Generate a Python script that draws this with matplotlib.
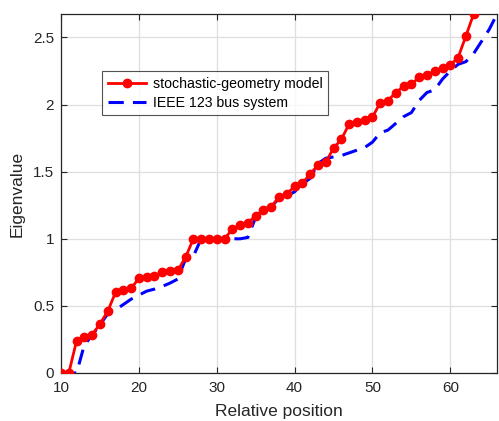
import numpy as np
import matplotlib
matplotlib.use("Agg")
from matplotlib import pyplot as plt

plt.rcParams["font.family"] = ["Liberation Sans", "DejaVu Sans"]

# stochastic-geometry model, one value per position 10..63
pos_model = np.arange(10, 64)
eig_model = [0, 0, 0.24, 0.265, 0.285, 0.365, 0.46, 0.60, 0.615, 0.63,
             0.705, 0.715, 0.722, 0.749, 0.763, 0.764, 0.862, 1.0, 1.0, 1.0,
             1.0, 1.0, 1.07, 1.105, 1.12, 1.17, 1.215, 1.235, 1.315, 1.335,
             1.39, 1.415, 1.482, 1.55, 1.57, 1.675, 1.74, 1.855, 1.87, 1.885,
             1.905, 2.015, 2.03, 2.09, 2.135, 2.15, 2.205, 2.22, 2.25, 2.27,
             2.295, 2.35, 2.51, 2.675]

# IEEE 123 bus system, positions 10..66
pos_ieee = np.arange(10, 67)
eig_ieee = [0, 0, 0.0, 0.21, 0.28, 0.36, 0.44, 0.47, 0.51, 0.55,
            0.58, 0.61, 0.625, 0.645, 0.67, 0.70, 0.85, 0.87, 1.0, 1.0,
            1.0, 1.0, 1.0, 1.0, 1.01, 1.16, 1.22, 1.24, 1.30, 1.32,
            1.35, 1.41, 1.45, 1.56, 1.60, 1.61, 1.62, 1.64, 1.66, 1.68,
            1.72, 1.79, 1.81, 1.86, 1.91, 1.94, 2.03, 2.09, 2.11, 2.19,
            2.25, 2.30, 2.32, 2.38, 2.47, 2.56, 2.675]

dark = "#262626"

fig = plt.figure(figsize=(4.99, 4.21), dpi=100)
ax = fig.add_axes([61 / 499, 48 / 421, 436 / 499, 359 / 421])

ax.plot(pos_model, eig_model, "-o", color="#ff0000", lw=2, ms=6,
        label="stochastic-geometry model", zorder=3)
ax.plot(pos_ieee, eig_ieee, "--", color="#0000ff", lw=2.2, dashes=(5, 3),
        label="IEEE 123 bus system", zorder=2)

ax.set_xlim(10, 66)
ax.set_ylim(0, 2.675)
ax.set_xticks([10, 20, 30, 40, 50, 60])
ax.set_yticks([0, 0.5, 1, 1.5, 2, 2.5])
ax.set_yticklabels(["0", "0.5", "1", "1.5", "2", "2.5"])
ax.grid(True, color="#dfdfdf", lw=0.9)
ax.set_axisbelow(True)
ax.tick_params(direction="in", top=True, right=True, length=4, width=0.8,
               colors=dark, labelsize=11)
ax.tick_params(axis="x", pad=6)
ax.tick_params(axis="y", pad=5)
for s in ax.spines.values():
    s.set_color(dark)
    s.set_linewidth(0.9)

ax.set_xlabel("Relative position", fontsize=12.5, color=dark, labelpad=6)
ax.set_ylabel("Eigenvalue", fontsize=12.5, color=dark, labelpad=6)

leg = ax.legend(loc="upper left", bbox_to_anchor=(0.094, 0.841),
                borderaxespad=0, fontsize=10.2, frameon=True, fancybox=False,
                edgecolor=dark, handlelength=2.7, handletextpad=0.5,
                labelspacing=0.35, borderpad=0.4)
leg.get_frame().set_linewidth(0.8)
for t in leg.get_texts():
    t.set_color("#000000")

fig.savefig("out.png", dpi=100)
